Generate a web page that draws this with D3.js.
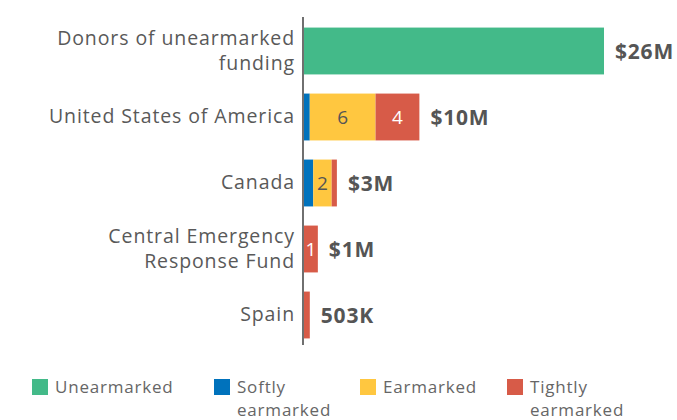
<!DOCTYPE html>
<html>
<head>
<meta charset="utf-8">
<script src="https://cdn.jsdelivr.net/npm/d3@7"></script>
<style>
  body { margin: 0; background: #fff; }
  svg text { font-family: "Open Sans", Lato, sans-serif; }
</style>
</head>
<body>
<svg id="chart" width="677" height="420"></svg>
<script>
// data, in millions USD
let donors = ['Donors of unearmarked funding', 'United States of America', 'Canada',
  'Central Emergency Response Fund', 'Spain'];
let unearmarked = [26.0, 0, 0, 0, 0];
let softly = [0, 0.5, 0.8, 0, 0];
let earmarked = [0, 5.7, 1.6, 0, 0];
let tightly = [0, 3.8, 0.45, 1.2, 0.503];
let total_labels = ['$26M', '$10M', '$3M', '$1M', '503K'];
let keys = ['Unearmarked', 'Softly earmarked', 'Earmarked', 'Tightly earmarked'];

let colors = ['#43ba89', '#0072bc', '#ffc740', '#d75b48'];
let inner_text = ['#555', '#fff', '#555', '#fff'];
let text_color = '#595959';

let label_lines = {
  'Donors of unearmarked funding': ['Donors of unearmarked', 'funding'],
  'Central Emergency Response Fund': ['Central Emergency', 'Response Fund']
};

let margin = {left: 304, top: 18};
let bar_width = 300;

let rows = donors.map((d, i) => ({
  donor: d,
  Unearmarked: unearmarked[i],
  'Softly earmarked': softly[i],
  Earmarked: earmarked[i],
  'Tightly earmarked': tightly[i],
  label: total_labels[i]
}));

let svg = d3.select('#chart');

let x = d3.scaleLinear()
  .domain([0, d3.max(rows, d => d3.sum(keys, k => d[k]))])
  .range([margin.left, margin.left + bar_width]);

let y = d3.scaleBand()
  .domain(donors)
  .range([margin.top, margin.top + 330])
  .paddingInner(0.29)
  .paddingOuter(0.145);

let color = d3.scaleOrdinal().domain(keys).range(colors);

let stacked = d3.stack().keys(keys)(rows);

// bars
let layers = svg.selectAll('.layer')
  .data(stacked)
  .enter().append('g')
  .attr('class', 'layer')
  .attr('fill', d => color(d.key));

layers.selectAll('rect')
  .data(d => d.filter(s => s[1] - s[0] > 0))
  .enter().append('rect')
  .attr('x', d => x(d[0]))
  .attr('y', d => y(d.data.donor))
  .attr('width', d => x(d[1]) - x(d[0]))
  .attr('height', y.bandwidth());

// segment numbers
layers.each(function(layer, li) {
  d3.select(this).selectAll('text')
    .data(layer.filter(s => x(s[1]) - x(s[0]) >= 12 && s.data.donor !== donors[0]))
    .enter().append('text')
    .attr('x', d => (x(d[0]) + x(d[1])) / 2)
    .attr('y', d => y(d.data.donor) + y.bandwidth() / 2)
    .attr('dy', '0.36em')
    .attr('text-anchor', 'middle')
    .style('font-size', '19px')
    .style('fill', inner_text[li])
    .text(d => Math.round(d[1] - d[0]));
});

// totals
svg.selectAll('.total')
  .data(rows)
  .enter().append('text')
  .attr('class', 'total')
  .attr('x', d => x(d3.sum(keys, k => d[k])) + 11)
  .attr('y', d => y(d.donor) + y.bandwidth() / 2)
  .attr('dy', '0.36em')
  .style('font-size', '21px')
  .style('font-weight', 'bold')
  .style('letter-spacing', '0.8px')
  .style('fill', '#555')
  .text(d => d.label);

// axis line
svg.append('line')
  .attr('x1', margin.left - 1)
  .attr('x2', margin.left - 1)
  .attr('y1', margin.top - 1)
  .attr('y2', margin.top + 327)
  .attr('stroke', '#222')
  .attr('stroke-width', 1.3);

// category labels
let cat = svg.selectAll('.cat')
  .data(donors)
  .enter().append('text')
  .attr('class', 'cat')
  .attr('text-anchor', 'end')
  .style('font-size', '19.5px')
  .style('letter-spacing', '0.9px')
  .style('fill', text_color);

cat.each(function(d) {
  let lines = label_lines[d] || [d];
  let cy = y(d) + y.bandwidth() / 2;
  let start = cy - (lines.length - 1) * 12.5 + 6;
  d3.select(this).selectAll('tspan')
    .data(lines)
    .enter().append('tspan')
    .attr('x', margin.left - 9)
    .attr('y', (l, i) => start + i * 25)
    .text(l => l);
});

// legend
let legend_x = [32, 214, 360, 507];
let legend = svg.selectAll('.legend')
  .data(keys)
  .enter().append('g')
  .attr('class', 'legend')
  .attr('transform', (d, i) => `translate(${legend_x[i]}, 379)`);

legend.append('rect')
  .attr('width', 16)
  .attr('height', 16)
  .attr('fill', d => color(d));

legend.append('text')
  .style('font-size', '17px')
  .style('letter-spacing', '0.8px')
  .style('fill', '#666')
  .selectAll('tspan')
  .data(d => d === 'Unearmarked' || d === 'Earmarked' ? [d] : d.split(' '))
  .enter().append('tspan')
  .attr('x', 23)
  .attr('y', (l, i) => 14 + i * 23)
  .text(l => l);
</script>
</body>
</html>
